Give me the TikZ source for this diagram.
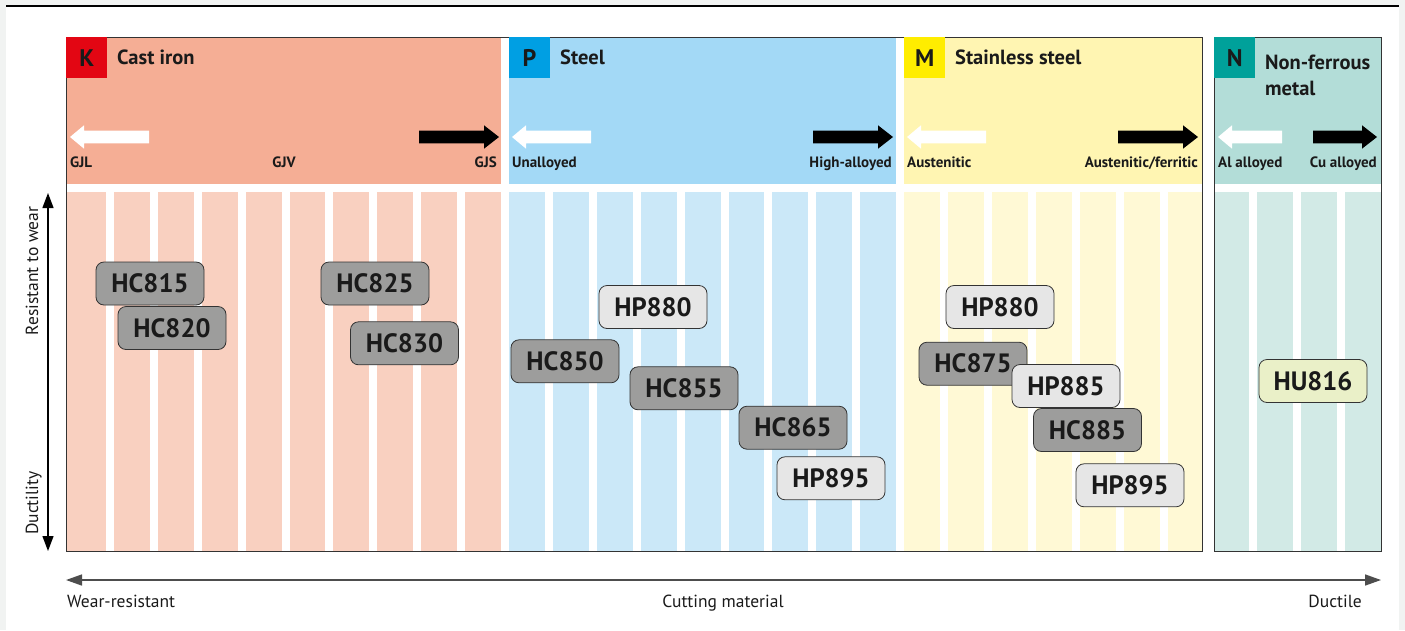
\documentclass[tikz,border=0pt]{standalone}
\usepackage{fontspec}
\setmainfont{PT Sans}
\usetikzlibrary{arrows.meta}
\definecolor{outerbg}{HTML}{F1F3F2}
\definecolor{Khead}{HTML}{F5AE95}
\definecolor{Kbody}{HTML}{F9D0C0}
\definecolor{Phead}{HTML}{A3D9F6}
\definecolor{Pbody}{HTML}{CBE8F8}
\definecolor{Mhead}{HTML}{FFF5B2}
\definecolor{Mbody}{HTML}{FFF9D5}
\definecolor{Nhead}{HTML}{B3DDD8}
\definecolor{Nbody}{HTML}{D2EAE6}
\definecolor{Kbox}{HTML}{E30613}
\definecolor{Pbox}{HTML}{009FE3}
\definecolor{Mbox}{HTML}{FFED00}
\definecolor{Nbox}{HTML}{00A19A}
\definecolor{bdr}{HTML}{333333}
\definecolor{bdark}{HTML}{9D9D9C}
\definecolor{blight}{HTML}{E6E6E6}
\definecolor{bgreen}{HTML}{EAF0C8}
\definecolor{txt}{HTML}{1A1A1A}
\definecolor{axisgray}{HTML}{4D4D4D}
\newcommand{\myLarrow}[3]{% tip x, tail x, y
  \fill[white] (#1,#3) -- (#1+14,#3-11.7) -- (#1+14,#3-6.3) -- (#2,#3-6.3) -- (#2,#3+6.3) -- (#1+14,#3+6.3) -- (#1+14,#3+11.7) -- cycle;}
\newcommand{\myRarrow}[3]{% tail x, tip x, y
  \fill[black] (#2,#3) -- (#2-15,#3-11.7) -- (#2-15,#3-6.3) -- (#1,#3-6.3) -- (#1,#3+6.3) -- (#2-15,#3+6.3) -- (#2-15,#3+11.7) -- cycle;}
\begin{document}
\begin{tikzpicture}[x=1pt,y=-1pt,
  badge/.style={draw=bdr, line width=0.8pt, rounded corners=8pt, minimum width=108pt, minimum height=43pt, inner sep=0pt, text=txt, font=\bfseries\fontsize{26.5}{26.5}\selectfont},
  darkbadge/.style={badge, fill=bdark},
  lightbadge/.style={badge, fill=blight},
  greenbadge/.style={badge, fill=bgreen},
  sublabel/.style={inner sep=0pt, text=txt, font=\bfseries\fontsize{15}{15}\selectfont},
  secttitle/.style={inner sep=0pt, text=txt, font=\bfseries\fontsize{20.5}{21}\selectfont},
  letterbox/.style={minimum width=41pt, minimum height=41pt, inner sep=0pt, anchor=north west, text=txt, font=\bfseries\fontsize{24}{24}\selectfont},
  axislabel/.style={inner sep=0pt, text=txt, font=\fontsize{17.5}{17.5}\selectfont}]
\useasboundingbox (0,0) rectangle (1405,630);
\fill[outerbg] (0,0) rectangle (1405,630);
\fill[white] (6,7) rectangle (1399,630);
\fill[black] (6,4.5) rectangle (1399,7);
% section headers
\fill[Khead] (66,37) rectangle (500.8,184);
\fill[Phead] (508.8,37) rectangle (896.1,184);
\fill[Mhead] (904.1,37) rectangle (1202,184);
\fill[Nhead] (1214,37) rectangle (1381,184);
% section bodies
\fill[Kbody] (66,192) rectangle (500.8,551);
\fill[Pbody] (508.8,192) rectangle (896.1,551);
\fill[Mbody] (904.1,192) rectangle (1202,551);
\fill[Nbody] (1214,192) rectangle (1381,551);
% white stripe gaps
\foreach \k in {1,...,9,11,12,...,18,20,21,...,25}{
  \fill[white] ({66+43.9*\k-4},184) rectangle ({66+43.9*\k+4},551);}
\foreach \k in {0,1,2}{
  \fill[white] ({1253+44*\k-4},184) rectangle ({1253+44*\k+4},551);}
% borders
\draw[bdr, line width=0.8pt] (66,37) rectangle (1202,551);
\draw[bdr, line width=0.8pt] (1214,37) rectangle (1381,551);
% letter boxes and titles
\node[letterbox, fill=Kbox] (kbox) at (66,37) {K};
\node[letterbox, fill=Pbox] (pbox) at (508.8,37) {P};
\node[letterbox, fill=Mbox] (mbox) at (904.1,37) {M};
\node[letterbox, fill=Nbox] (nbox) at (1214,37) {N};
\node[secttitle, anchor=base west] (ktitle) at (117,64.5) {Cast iron};
\node[secttitle, anchor=base west] (ptitle) at (560,64.5) {Steel};
\node[secttitle, anchor=base west] (mtitle) at (955,64.5) {Stainless steel};
\node[secttitle, anchor=base west] (ntitle1) at (1265,69.5) {Non-ferrous};
\node[secttitle, anchor=base west] (ntitle2) at (1265,95) {metal};
% block arrows
\myLarrow{70}{149}{137}
\myRarrow{419}{499}{137}
\myLarrow{512}{591}{137}
\myRarrow{813}{893}{137}
\myLarrow{907}{986}{137}
\myRarrow{1118}{1198}{137}
\myLarrow{1218}{1282}{137}
\myRarrow{1313}{1377}{137}
% sub labels
\node[sublabel, anchor=base west] (gjl) at (70,167) {GJL};
\node[sublabel, anchor=base] (gjv) at (284,167) {GJV};
\node[sublabel, anchor=base east] (gjs) at (497,167) {GJS};
\node[sublabel, anchor=base west] (unal) at (512,167) {Unalloyed};
\node[sublabel, anchor=base east] (hial) at (892,167) {High-alloyed};
\node[sublabel, anchor=base west] (aust) at (907,167) {Austenitic};
\node[sublabel, anchor=base east] (ausf) at (1198,167) {Austenitic/ferritic};
\node[sublabel, anchor=base west] (alal) at (1218,167) {Al alloyed};
\node[sublabel, anchor=base east] (cual) at (1377,167) {Cu alloyed};
% badges
\node[darkbadge] (hc815) at (150,283.5) {HC815};
\node[darkbadge] (hc820) at (172,328) {HC820};
\node[darkbadge] (hc825) at (375,283.5) {HC825};
\node[darkbadge] (hc830) at (404.5,343.3) {HC830};
\node[lightbadge] (hp880p) at (653,307) {HP880};
\node[darkbadge] (hc850) at (565,361.3) {HC850};
\node[darkbadge] (hc855) at (684,388.3) {HC855};
\node[darkbadge] (hc865) at (793,427.7) {HC865};
\node[lightbadge] (hp895p) at (831,478.3) {HP895};
\node[lightbadge] (hp880m) at (1000,307) {HP880};
\node[darkbadge] (hc875) at (973,363.7) {HC875};
\node[lightbadge] (hp885) at (1066,386) {HP885};
\node[darkbadge] (hc885) at (1087.5,430) {HC885};
\node[lightbadge] (hp895m) at (1130,485.3) {HP895};
\node[greenbadge] (hu816) at (1313,381) {HU816};
% vertical axis
\coordinate (ytop) at (48,193);
\coordinate (ybot) at (48,551);
\draw[black, line width=1.3pt, {Triangle[length=15pt,width=11pt]}-{Triangle[length=15pt,width=11pt]}] (ytop) -- (ybot);
\node[axislabel, rotate=90, anchor=base] (ywear) at (38,271) {Resistant to wear};
\node[axislabel, rotate=90, anchor=base west] (yduct) at (38,535) {Ductility};
% horizontal axis
\coordinate (xleft) at (66,580);
\coordinate (xright) at (1381,580);
\draw[axisgray, line width=1.5pt, {Triangle[length=16pt,width=11pt]}-{Triangle[length=16pt,width=11pt]}] (xleft) -- (xright);
\node[axislabel, anchor=base west] (xwear) at (67,607) {Wear-resistant};
\node[axislabel, anchor=base] (xcut) at (723,607) {Cutting material};
\node[axislabel, anchor=base east] (xduct) at (1362,607) {Ductile};
\end{tikzpicture}
\end{document}
